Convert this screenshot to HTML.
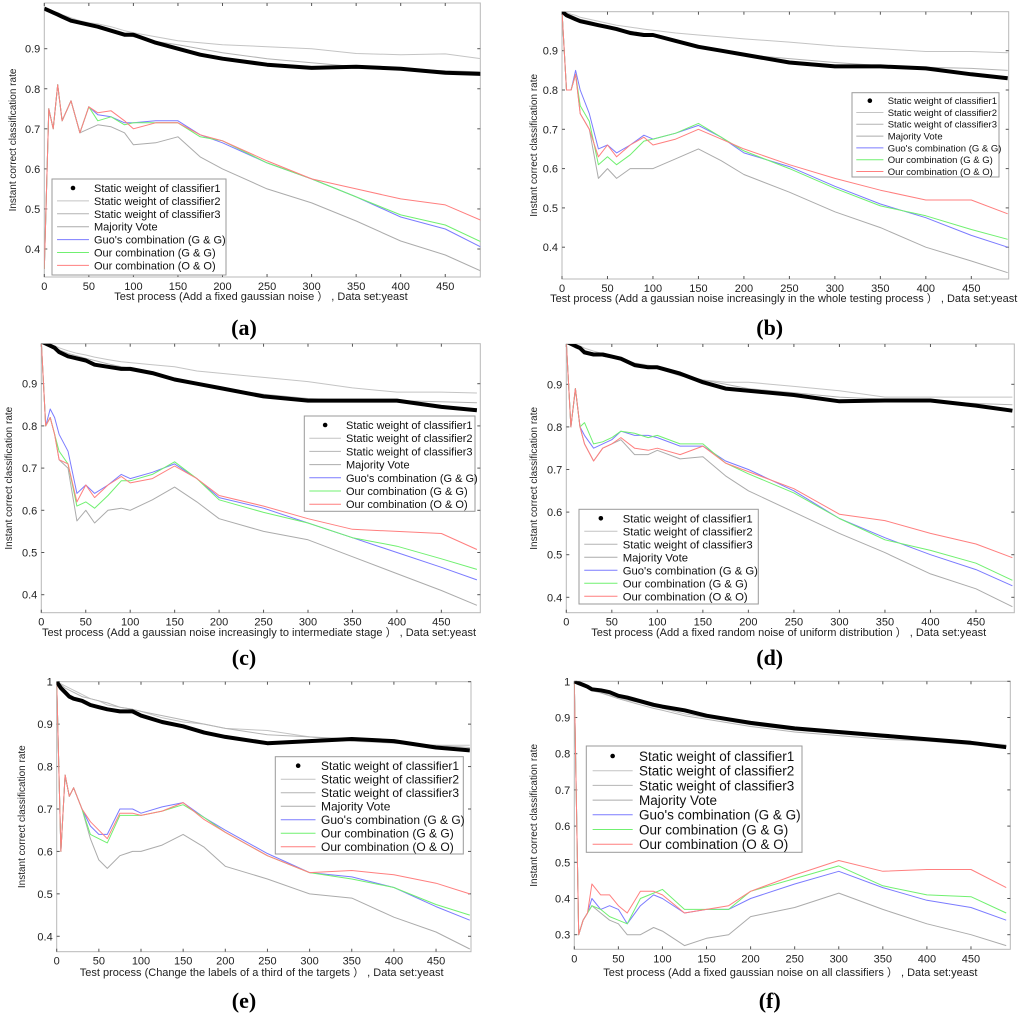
<!DOCTYPE html>
<html><head><meta charset="utf-8"><style>
html,body{margin:0;padding:0;background:#fff;}
svg{display:block;font-family:"Liberation Sans",Arial,sans-serif;}
</style></head><body>
<svg id="fig" width="1024" height="1023" viewBox="0 0 1024 1023" xmlns="http://www.w3.org/2000/svg"></svg>
<script>
const X=[0,5,10,15,20,30,40,50,60,75,90,100,125,150,175,200,250,300,350,400,450,490];
const xTicks=[0,50,100,150,200,250,300,350,400,450];
const seriesNames=["Static weight of classifier1","Static weight of classifier2","Static weight of classifier3","Majority Vote","Guo's combination (G & G)","Our combination (G & G)","Our combination (O & O)"];

const aS1=[1,.995,.99,.985,.98,.97,.965,.96,.955,.945,.935,.935,.915,.9,.885,.875,.86,.852,.855,.85,.84,.837];
const aS2=[1,.997,.993,.99,.985,.977,.97,.965,.962,.955,.945,.94,.93,.92,.915,.91,.905,.9,.888,.885,.887,.875];
const aS3=[1,.996,.99,.985,.98,.972,.965,.96,.955,.945,.935,.93,.918,.91,.9,.89,.875,.865,.855,.85,.845,.842];
const aMV=[.35,.75,.70,.81,.72,.77,.69,.70,.71,.705,.69,.66,.665,.68,.63,.60,.55,.515,.47,.42,.385,.345];
const aGuo=[.35,.75,.70,.81,.72,.77,.69,.755,.735,.73,.715,.715,.72,.72,.685,.665,.615,.575,.53,.48,.45,.405];
const aGG=[.35,.75,.70,.81,.72,.77,.69,.755,.72,.73,.71,.715,.715,.715,.68,.67,.615,.575,.53,.485,.46,.418];
const aOO=[.35,.75,.70,.81,.72,.77,.69,.755,.74,.745,.72,.70,.715,.715,.685,.67,.62,.575,.55,.525,.51,.472];

const bS1=[1,.99,.985,.98,.975,.97,.965,.96,.955,.945,.94,.94,.925,.91,.9,.89,.87,.86,.86,.855,.84,.83];
const bS2=[1,.997,.993,.99,.985,.98,.975,.97,.965,.96,.955,.952,.945,.94,.935,.93,.922,.912,.905,.898,.898,.895];
const bS3=[1,.995,.99,.985,.98,.975,.968,.962,.957,.95,.943,.94,.925,.91,.9,.89,.88,.87,.862,.858,.855,.85];
const bMV=[1,.80,.80,.84,.74,.70,.575,.60,.575,.60,.60,.60,.625,.65,.62,.585,.54,.49,.45,.40,.365,.335];
const bGuo=[1,.80,.80,.85,.80,.74,.65,.66,.64,.66,.685,.675,.69,.71,.68,.64,.605,.555,.51,.475,.43,.40];
const bGG=[1,.80,.80,.84,.76,.72,.61,.63,.61,.635,.67,.675,.69,.715,.68,.645,.60,.55,.505,.48,.445,.42];
const bOO=[1,.80,.80,.84,.74,.70,.63,.66,.63,.66,.68,.66,.675,.70,.675,.65,.61,.575,.545,.52,.52,.485];

const cS1=[1,.995,.99,.985,.975,.965,.96,.955,.945,.94,.935,.935,.925,.91,.9,.89,.87,.86,.86,.86,.845,.837];
const cS2=[1,.997,.993,.99,.985,.978,.972,.968,.963,.957,.952,.95,.945,.94,.93,.925,.915,.905,.89,.88,.88,.878];
const cS3=[1,.995,.99,.985,.98,.972,.966,.96,.955,.947,.94,.937,.925,.91,.9,.89,.875,.865,.86,.86,.857,.855];
const cMV=[1,.80,.82,.78,.72,.70,.575,.60,.57,.60,.605,.60,.625,.655,.62,.58,.55,.53,.49,.45,.41,.375];
const cGuo=[1,.80,.84,.82,.78,.74,.64,.66,.64,.66,.685,.675,.69,.71,.675,.63,.605,.57,.535,.50,.465,.435];
const cGG=[1,.80,.82,.78,.74,.71,.61,.62,.605,.635,.67,.67,.685,.715,.675,.625,.595,.57,.535,.515,.485,.46];
const cOO=[1,.80,.82,.78,.72,.71,.62,.66,.63,.66,.68,.665,.675,.705,.675,.635,.61,.58,.555,.55,.545,.507];

const dS1=[1,.995,.99,.985,.975,.97,.97,.965,.96,.945,.94,.94,.925,.905,.89,.885,.875,.86,.862,.862,.85,.838];
const dS2=[1,.997,.993,.99,.985,.978,.972,.965,.96,.95,.945,.94,.925,.91,.905,.905,.895,.885,.87,.87,.87,.87];
const dS3=[1,.995,.99,.985,.98,.973,.966,.962,.957,.947,.94,.937,.92,.91,.9,.89,.88,.87,.865,.86,.855,.852];
const dMV=[1,.80,.89,.80,.76,.72,.75,.76,.77,.735,.735,.745,.725,.73,.685,.65,.60,.55,.505,.455,.42,.378];
const dGuo=[1,.80,.89,.80,.78,.75,.76,.77,.79,.78,.78,.775,.755,.755,.72,.70,.65,.585,.54,.50,.465,.427];
const dGG=[1,.80,.89,.80,.81,.76,.765,.775,.79,.785,.775,.78,.76,.76,.715,.69,.645,.585,.535,.51,.48,.44];
const dOO=[1,.80,.89,.80,.76,.72,.75,.76,.775,.75,.745,.75,.735,.755,.715,.695,.655,.595,.58,.55,.525,.493];

const eS1=[1,.985,.975,.965,.96,.955,.945,.94,.935,.93,.93,.92,.905,.895,.88,.87,.855,.86,.865,.86,.845,.838];
const eS2=[1,.995,.99,.985,.98,.97,.96,.955,.945,.94,.935,.93,.915,.905,.9,.89,.885,.87,.86,.855,.85,.85];
const eS3=[1,.993,.985,.98,.975,.965,.96,.955,.95,.94,.935,.93,.92,.91,.9,.89,.875,.87,.865,.855,.85,.845];
const eMV=[1,.60,.78,.73,.75,.70,.63,.58,.56,.59,.60,.60,.615,.64,.61,.565,.535,.50,.49,.445,.41,.37];
const eGuo=[1,.60,.78,.73,.75,.70,.66,.64,.64,.70,.70,.69,.705,.715,.68,.65,.595,.55,.54,.515,.47,.438];
const eGG=[1,.60,.78,.73,.75,.70,.64,.63,.62,.685,.685,.685,.695,.71,.68,.645,.59,.55,.535,.515,.475,.45];
const eOO=[1,.60,.78,.73,.75,.70,.67,.65,.63,.69,.69,.685,.695,.715,.675,.645,.59,.55,.555,.545,.525,.50];

const fS1=[1,.995,.99,.985,.978,.975,.97,.96,.955,.945,.935,.93,.92,.905,.895,.885,.87,.86,.85,.84,.83,.818];
const fS2=[1,.995,.99,.983,.976,.97,.962,.955,.948,.94,.93,.925,.91,.9,.89,.88,.865,.855,.845,.838,.83,.825];
const fS3=[1,.993,.988,.98,.974,.968,.96,.952,.945,.935,.925,.92,.905,.895,.885,.875,.86,.85,.84,.835,.825,.82];
const fMV=[1,.30,.34,.36,.38,.36,.34,.33,.30,.30,.32,.31,.27,.29,.30,.35,.375,.415,.37,.33,.30,.27];
const fGuo=[1,.30,.34,.36,.40,.37,.38,.37,.33,.38,.41,.40,.36,.37,.37,.40,.44,.475,.43,.395,.375,.34];
const fGG=[1,.30,.34,.36,.38,.37,.35,.34,.33,.40,.415,.425,.37,.37,.37,.42,.455,.49,.435,.41,.405,.36];
const fOO=[1,.30,.34,.36,.44,.41,.41,.38,.36,.42,.42,.41,.36,.37,.38,.42,.465,.505,.475,.48,.48,.43];

const yTicksA=[0.4,0.5,0.6,0.7,0.8,0.9];
const yTicksE=[0.4,0.5,0.6,0.7,0.8,0.9,1];
const yTicksF=[0.3,0.4,0.5,0.6,0.7,0.8,0.9,1];

const panels=[
 {id:'a',L:44.3,R:480.3,T:3,B:277,x0:44.3,xs:0.891,y0:48.7,yv:0.9,ys:400.6,xmax:490,ticks:yTicksA,
  data:[aS1,aS2,aS3,aMV,aGuo,aGG,aOO],leg:{x1:52,x2:226,y1:179,y2:275,tx:94,ry:188,dy:12.9,fs:11},
  xl:"Test process (Add a fixed gaussian noise \uFF09 , Data set:yeast",xlx:261,xly:300,ylx:16,cap:"(a)",capx:244,capy:335},
 {id:'b',L:562,R:1008.7,T:11.7,B:279,x0:562,xs:0.9096,y0:50.7,yv:0.9,ys:393,xmax:492,ticks:yTicksA,
  data:[bS1,bS2,bS3,bMV,bGuo,bGG,bOO],leg:{x1:852,x2:999,y1:92.7,y2:177,tx:887.7,ry:100.7,dy:11.8,fs:9.5},
  xl:"Test process (Add a gaussian noise increasingly in the whole testing process \uFF09 , Data set:yeast",xlx:783.7,xly:302,ylx:537,cap:"(b)",capx:769.7,capy:335},
 {id:'c',L:41.3,R:480.3,T:343.7,B:612.7,x0:41.3,xs:0.889,y0:383.7,yv:0.9,ys:422,xmax:494,ticks:yTicksA,
  data:[cS1,cS2,cS3,cMV,cGuo,cGG,cOO],leg:{x1:304.3,x2:475,y1:416,y2:511.3,tx:346,ry:425,dy:13.2,fs:11},
  xl:"Test process (Add a gaussian noise increasingly to intermediate stage \uFF09 , Data set:yeast",xlx:259,xly:636,ylx:12,cap:"(c)",capx:244,capy:665},
 {id:'d',L:566.3,R:1014.3,T:344,B:612.7,x0:566.3,xs:0.9104,y0:384.3,yv:0.9,ys:426,xmax:492,ticks:yTicksA,
  data:[dS1,dS2,dS3,dMV,dGuo,dGG,dOO],leg:{x1:579,x2:758.3,y1:509.3,y2:604,tx:622.7,ry:518.3,dy:13,fs:11.3},
  xl:"Test process (Add a fixed random noise of uniform distribution \uFF09 , Data set:yeast",xlx:788.7,xly:636,ylx:537,cap:"(d)",capx:769.7,capy:665},
 {id:'e',L:56.7,R:471,T:681.7,B:951.7,x0:56.7,xs:0.843,y0:681.7,yv:1.0,ys:424.3,xmax:492,ticks:yTicksE,
  data:[eS1,eS2,eS3,eMV,eGuo,eGG,eOO],leg:{x1:275.3,x2:463.3,y1:756.7,y2:854,tx:321,ry:765.7,dy:13.5,fs:12},
  xl:"Test process (Change the labels of a third of the targets \uFF09 , Data set:yeast",xlx:261.7,xly:976,ylx:25,cap:"(e)",capx:244,capy:1008},
 {id:'f',L:574.3,R:1010.3,T:681.3,B:949.3,x0:574.3,xs:0.8815,y0:681.3,yv:1.0,ys:362,xmax:495,ticks:yTicksF,
  data:[fS1,fS2,fS3,fMV,fGuo,fGG,fOO],leg:{x1:586.3,x2:802,y1:746,y2:852.3,tx:639,ry:756,dy:14.7,fs:13.5},
  xl:"Test process (Add a fixed gaussian noise on all classifiers \uFF09 , Data set:yeast",xlx:790.3,xly:976,ylx:537,cap:"(f)",capx:769.7,capy:1008}
];
const colors=['#000','#c4c4c4','#b4b4b4','#ababab','#7b7bff','#70f070','#ff7f7f'];
const NS='http://www.w3.org/2000/svg';
const svg=document.getElementById('fig');
function mk(tag,attrs,parent){const e=document.createElementNS(NS,tag);for(const k in attrs)e.setAttribute(k,attrs[k]);(parent||svg).appendChild(e);return e;}

panels.forEach(p=>{
  const xS=v=>p.x0+v*p.xs;
  const yS=v=>p.y0-(v-p.yv)*p.ys;
  const g=mk('g',{});
  
  
  const cp=mk('clipPath',{id:'clip'+p.id},g);
  mk('rect',{x:p.L,y:p.T,width:p.R-p.L,height:p.B-p.T},cp);
  const frame=mk('rect',{x:p.L,y:p.T,width:p.R-p.L,height:p.B-p.T,fill:'#fff',stroke:'#b8b8b8','stroke-width':1},g);
  
  
  xTicks.forEach(t=>{
    const x=xS(t);
    mk('line',{x1:x,x2:x,y1:p.B,y2:p.B-3,stroke:'#555'},g);
    mk('line',{x1:x,x2:x,y1:p.T,y2:p.T+3,stroke:'#555'},g);
    const tl=mk('text',{x:x,y:p.B+13,'font-size':11,'text-anchor':'middle',fill:'#222'},g);
    tl.textContent=t;
    
    
  });
  p.ticks.forEach(t=>{
    const y=yS(t);
    mk('line',{x1:p.L,x2:p.L+3,y1:y,y2:y,stroke:'#555'},g);
    mk('line',{x1:p.R,x2:p.R-3,y1:y,y2:y,stroke:'#555'},g);
    const tl=mk('text',{x:p.L-4,y:y+4,'font-size':11,'text-anchor':'end',fill:'#222'},g);
    tl.textContent=(t===1?'1':t.toFixed(1));
    
    
  });
  const lg=mk('g',{'clip-path':'url(#clip'+p.id+')'},g);
  const order=[1,2,3,4,5,6,0];
  order.forEach(i=>{
    const d=p.data[i];
    let pts=[];
    for(let k=0;k<X.length;k++){const xv=Math.min(X[k],p.xmax);pts.push(xS(xv).toFixed(1)+','+yS(d[k]).toFixed(1));}
    const pl=mk('polyline',{points:pts.join(' '),fill:'none',stroke:colors[i],'stroke-width':i===0?4:1,'stroke-linejoin':'round'},lg);
    
    
  });
  // legend
  const L=p.leg;
  const lgd=mk('g',{},g);
  
  
  mk('rect',{x:L.x1,y:L.y1,width:L.x2-L.x1,height:L.y2-L.y1,fill:'#fff',stroke:'#9a9a9a','stroke-width':1},lgd);
  seriesNames.forEach((n,i)=>{
    const y=L.ry+i*L.dy;
    const sx1=L.x1+(L.tx-L.x1)*0.12, sx2=L.tx-(L.tx-L.x1)*0.12;
    if(i===0){mk('circle',{cx:(sx1+sx2)/2,cy:y,r:2.3,fill:'#000'},lgd);}
    else mk('line',{x1:sx1,x2:sx2,y1:y,y2:y,stroke:colors[i],'stroke-width':1},lgd);
    const t=mk('text',{x:L.tx,y:y+L.fs*0.36,'font-size':L.fs,fill:'#111'},lgd);
    t.textContent=n;
    
    
  });
  const xl=mk('text',{x:p.xlx,y:p.xly,'font-size':11,'text-anchor':'middle',fill:'#222'},g);
  xl.textContent=p.xl;
  
  
  const cy=(p.T+p.B)/2;
  const yl=mk('text',{x:p.ylx,y:cy,'font-size':10,'text-anchor':'middle',fill:'#222',transform:'rotate(-90 '+p.ylx+' '+cy+')'},g);
  yl.textContent='Instant correct classification rate';
  
  
  const cap=mk('text',{x:p.capx,y:p.capy,'font-size':22,'font-weight':'bold','text-anchor':'middle','font-family':'"Liberation Serif",serif',fill:'#000'},g);
  cap.textContent=p.cap;
  
  
});
</script>
</body></html>
